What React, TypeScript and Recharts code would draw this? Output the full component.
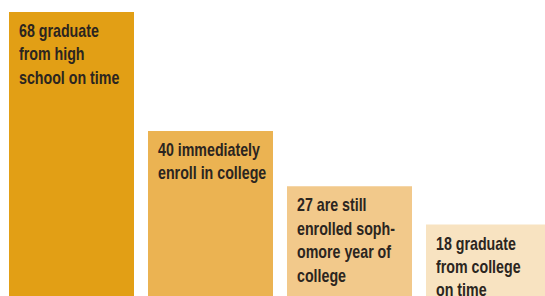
import React from "react";
import { BarChart, Bar, XAxis, YAxis, Cell, LabelList } from "recharts";

const stages = ["highSchool", "enroll", "sophomore", "collegeGrad"];
const counts = [68, 40, 27, 18];
const labelLines = [
  ["68 graduate", "from high", "school on time"],
  ["40 immediately", "enroll in college"],
  ["27 are still", "enrolled soph-", "omore year of", "college"],
  ["18 graduate", "from college", "on time"],
];
const barColors = ["#E29F15", "#EBB352", "#F2C98B", "#F8E3C1"];

const data = stages.map((s, i) => ({ stage: s, value: counts[i] }));

// condensed look: narrow a bold sans horizontally
function StageLabel(props: any) {
  const { x, y, index } = props;
  const lines = labelLines[index] || [];
  return (
    <g transform={`translate(${x + 10},${y + 25}) scale(0.79,1)`}>
      <text
        x={0}
        y={0}
        fill="#2B2520"
        fontFamily="'Liberation Sans', Arial, sans-serif"
        fontWeight={700}
        fontSize={18}
      >
        {lines.map((l, i) => (
          <tspan key={i} x={0} dy={i === 0 ? 0 : 23.5}>
            {l}
          </tspan>
        ))}
      </text>
    </g>
  );
}

export default function App() {
  return (
    <div
      style={{
        position: "fixed",
        left: 0,
        top: 0,
        width: 545,
        height: 296,
        overflow: "hidden",
        background: "#fff",
      }}
    >
      <BarChart
        width={558}
        height={301}
        data={data}
        margin={{ top: 12, right: 0, bottom: 0, left: 2 }}
        barCategoryGap={14}
      >
        <XAxis dataKey="stage" hide />
        <YAxis hide domain={[0, 68]} />
        <Bar dataKey="value" barSize={125} isAnimationActive={false}>
          {data.map((d, i) => (
            <Cell key={d.stage} fill={barColors[i]} />
          ))}
          <LabelList dataKey="value" content={<StageLabel />} />
        </Bar>
      </BarChart>
    </div>
  );
}
